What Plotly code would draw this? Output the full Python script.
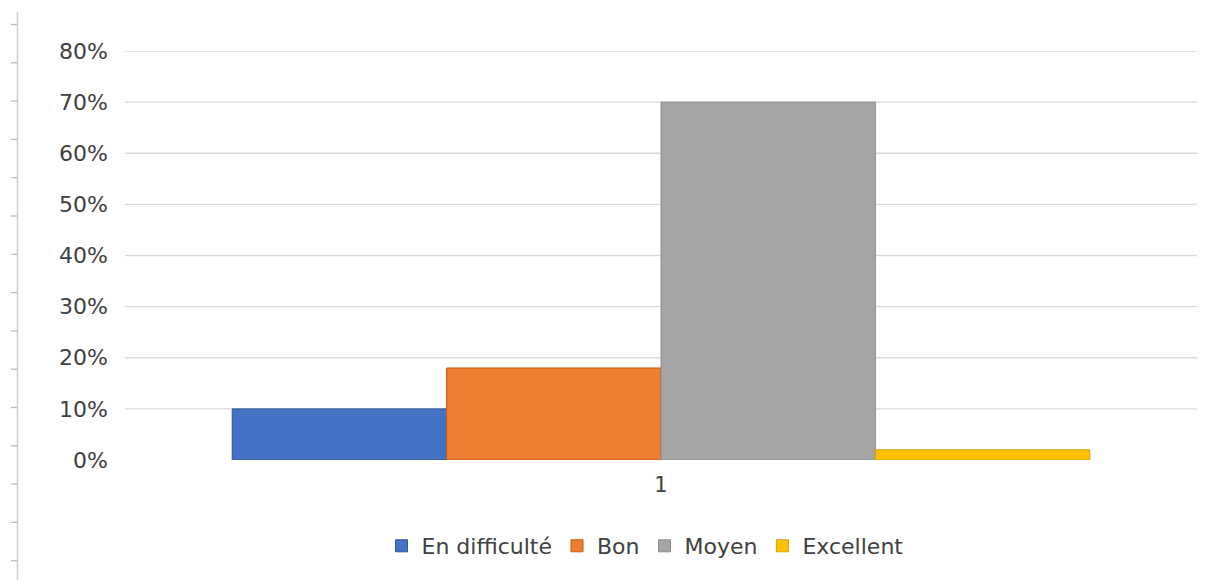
import plotly.graph_objects as go

categories = ["1"]
series_names = ["En difficulté", "Bon", "Moyen", "Excellent"]
series_values = [[0.10], [0.18], [0.70], [0.02]]
series_colors = ["#4472C4", "#ED7D31", "#A5A5A5", "#FFC000"]
series_lines = ["#2F5597", "#C55A11", "#8C8C8C", "#D9A300"]
tick_values = [0, 0.1, 0.2, 0.3, 0.4, 0.5, 0.6, 0.7, 0.8]
tick_labels = ["0%", "10%", "20%", "30%", "40%", "50%", "60%", "70%", "80%"]

fig = go.Figure()
for name, vals, col, lc in zip(series_names, series_values, series_colors, series_lines):
    fig.add_trace(go.Bar(x=categories, y=vals, name=name,
                         marker=dict(color=col, line=dict(color=lc, width=1))))

shapes = []
# gridlines (no line at 0%)
for v in tick_values[1:]:
    shapes.append(dict(type="line", xref="paper", yref="y", x0=0, x1=1, y0=v, y1=v,
                       line=dict(color="#D9D9D9", width=1.3), layer="below"))

# page offset of 8px (body margin) is compensated in the figure size
OFF = 8
W, H = 1213 - OFF, 580 - OFF
ml, mr, mt, mb = 125 - OFF, 16, 51 - OFF, 120
pw = W - ml - mr
ph = H - mt - mb
def px(x):
    return (x - OFF - ml) / pw
def py(y):
    return (H - mb - (y - OFF)) / ph
# screenshot ruler at the left edge (decoration)
shapes.append(dict(type="line", xref="paper", yref="paper", x0=px(17.5), x1=px(17.5),
                   y0=py(12), y1=py(580), line=dict(color="#D0D0D0", width=1.5)))
ty = 24.5
while ty < 580:
    shapes.append(dict(type="line", xref="paper", yref="paper", x0=px(11), x1=px(17),
                       y0=py(ty), y1=py(ty), line=dict(color="#BBBBBB", width=1.3)))
    ty += 38.3

FONT = "DejaVu Sans, Verdana, sans-serif"
fig.update_layout(
    width=W, height=H,
    margin=dict(l=ml, r=mr, t=mt, b=mb),
    paper_bgcolor="white", plot_bgcolor="white",
    barmode="group", bargap=0.2, bargroupgap=0,
    font=dict(family=FONT, color="#404040", size=21),
    xaxis=dict(showgrid=False, zeroline=False, showline=False, ticks="",
               tickfont=dict(size=21, color="#404040"), type="category",
               ticklabelstandoff=10),
    yaxis=dict(range=[0, 0.8], tickvals=tick_values, ticktext=tick_labels,
               showgrid=False, zeroline=False, showline=False, ticks="",
               ticklabelstandoff=16,
               tickfont=dict(size=22, color="#404040")),
    legend=dict(orientation="h", xref="container", yref="container",
                x=(645 - OFF) / W, y=1 - (546 - OFF) / H, xanchor="center", yanchor="middle",
                font=dict(size=22, color="#404040"), itemwidth=30,
                traceorder="normal"),
    shapes=shapes,
    showlegend=True,
)
fig.write_html("out.html")
